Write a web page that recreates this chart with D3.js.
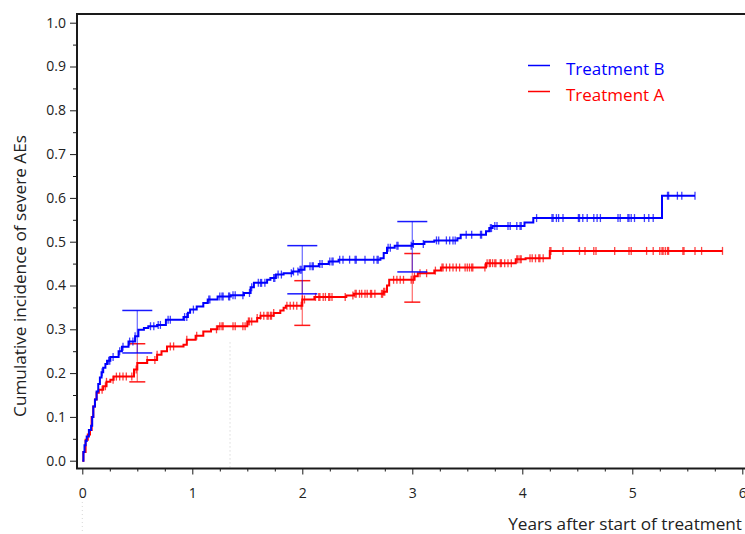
<!DOCTYPE html>
<html>
<head>
<meta charset="utf-8">
<script src="https://cdn.jsdelivr.net/npm/d3@7"></script>
<style>
  html, body { margin: 0; padding: 0; background: #fff; }
  svg { display: block; }
  text { font-family: "Open Sans", "Noto Sans", sans-serif; }
</style>
</head>
<body>
<svg id="chart" width="745" height="534"></svg>
<script>
// Cumulative incidence step curves: [time in years, cumulative incidence after that time]
const stepsB = [
  [0,0],[0.01,0.02],[0.02,0.035],[0.03,0.045],[0.04,0.055],[0.06,0.07],[0.08,0.08],[0.09,0.10],
  [0.10,0.124],[0.115,0.14],[0.13,0.158],[0.145,0.175],[0.16,0.19],[0.175,0.202],[0.19,0.212],
  [0.21,0.221],[0.225,0.228],[0.255,0.237],[0.33,0.25],[0.36,0.26],[0.42,0.272],[0.48,0.284],
  [0.51,0.299],[0.56,0.303],[0.60,0.307],[0.68,0.31],[0.76,0.322],[0.92,0.328],[0.96,0.338],
  [0.98,0.345],[1.04,0.352],[1.10,0.36],[1.14,0.368],[1.23,0.375],[1.35,0.378],[1.47,0.383],
  [1.53,0.396],[1.56,0.406],[1.68,0.413],[1.71,0.417],[1.76,0.425],[1.83,0.428],[1.91,0.432],
  [1.97,0.436],[2.02,0.444],[2.15,0.449],[2.24,0.455],[2.33,0.459],[2.71,0.462],[2.74,0.474],
  [2.77,0.486],[2.84,0.491],[3.0,0.495],[3.11,0.5],[3.2,0.503],[3.41,0.508],[3.44,0.516],
  [3.67,0.524],[3.70,0.531],[3.73,0.536],[4.02,0.544],[4.10,0.554],[5.27,0.605]
];
const endB = 5.57;

const stepsA = [
  [0,0],[0.01,0.02],[0.03,0.048],[0.05,0.06],[0.07,0.07],[0.085,0.10],[0.10,0.124],[0.115,0.14],
  [0.13,0.155],[0.15,0.162],[0.19,0.17],[0.22,0.18],[0.255,0.185],[0.285,0.192],[0.47,0.208],
  [0.50,0.223],[0.59,0.23],[0.68,0.242],[0.72,0.25],[0.77,0.261],[0.92,0.265],[0.95,0.276],
  [1.03,0.285],[1.10,0.295],[1.17,0.30],[1.23,0.307],[1.50,0.318],[1.59,0.326],[1.62,0.331],
  [1.74,0.337],[1.80,0.343],[1.83,0.349],[1.85,0.354],[2.0,0.368],[2.11,0.374],[2.40,0.377],
  [2.47,0.381],[2.74,0.386],[2.77,0.40],[2.79,0.413],[3.02,0.421],[3.05,0.428],[3.2,0.434],
  [3.26,0.441],[3.67,0.451],[3.94,0.46],[4.03,0.462],[4.25,0.479]
];
const endA = 5.82;

// Censoring times (years)
const censorB = [
  0.18,0.24,0.25,0.28,0.34,0.37,0.43,0.46,0.48,0.62,0.65,0.69,0.71,0.78,0.80,0.93,0.95,1.01,
  1.15,1.16,1.25,1.27,1.28,1.33,1.34,1.37,1.39,1.46,1.52,1.54,1.60,1.62,1.63,1.66,1.74,1.75,
  1.78,1.81,1.90,1.92,1.96,1.98,1.99,2.07,2.09,2.10,2.16,2.18,2.25,2.27,2.28,2.34,2.37,2.43,
  2.48,2.49,2.57,2.65,2.68,2.69,2.78,2.80,2.86,2.87,2.99,3.01,3.10,3.22,3.24,3.31,3.34,3.37,
  3.39,3.49,3.54,3.62,3.63,3.71,3.72,3.75,3.77,3.87,3.89,3.95,3.98,3.99,4.13,4.27,4.28,4.31,
  4.33,4.37,4.51,4.52,4.55,4.59,4.65,4.68,4.71,4.87,4.89,4.96,4.97,4.99,5.02,5.11,5.15,5.19,
  5.32,5.33,5.41,5.45,5.57
];
const censorA = [
  0.18,0.21,0.22,0.28,0.31,0.34,0.37,0.40,0.45,0.49,0.59,0.66,0.68,0.80,0.83,0.95,1.04,
  1.22,1.25,1.27,1.28,1.37,1.39,1.46,1.48,1.51,1.52,1.54,1.59,1.62,1.68,1.71,1.65,1.69,1.72,
  1.74,1.86,1.89,1.92,1.95,1.99,2.00,2.02,2.12,2.15,2.16,2.19,2.21,2.24,2.25,2.27,2.39,2.46,
  2.48,2.49,2.52,2.54,2.57,2.59,2.62,2.63,2.66,2.72,2.73,2.74,2.75,2.83,2.86,2.89,2.92,2.99,
  3.01,3.02,3.07,3.13,3.21,3.27,3.28,3.31,3.34,3.37,3.40,3.43,3.48,3.50,3.52,3.54,3.55,3.66,
  3.68,3.70,3.71,3.73,3.75,3.76,3.80,3.81,3.84,3.87,3.90,3.95,3.96,3.98,3.99,4.07,4.09,4.12,
  4.15,4.16,4.19,4.25,4.26,4.37,4.52,4.57,4.65,4.67,4.84,4.97,4.99,5.13,5.19,5.25,5.27,5.28,
  5.30,5.32,5.33,5.46,5.47,5.57,5.63,5.82
];

// Pointwise confidence intervals: [time, lower, upper]
const ciB = [[0.5,0.246,0.343],[2.0,0.381,0.491],[3.0,0.431,0.546]];
const ciA = [[0.5,0.180,0.267],[2.0,0.309,0.411],[3.0,0.362,0.473]];

const yTicks = [0,0.1,0.2,0.3,0.4,0.5,0.6,0.7,0.8,0.9,1.0];
const xTicks = [0,1,2,3,4,5,6];
const seriesNames = ["Treatment B","Treatment A"];

const BLUE = "#0000ff", RED = "#ff0000", FRAME = "#1a1a1a";

const svg = d3.select("#chart");
const x = d3.scaleLinear().domain([0, 6]).range([82.3, 742.3]);
const y = d3.scaleLinear().domain([0, 1]).range([460.7, 22.7]);

const frameLeft = 77, frameTop = 14, frameBottom = 468.5, frameRight = 745;

// faint dotted guide lines
svg.append("line").attr("x1", x(1.343)).attr("x2", x(1.343))
  .attr("y1", y(0.27)).attr("y2", frameBottom)
  .attr("stroke", "#c8c8c8").attr("stroke-width", 1).attr("stroke-dasharray", "1,3");
svg.append("line").attr("x1", x(0)).attr("x2", x(0))
  .attr("y1", 502).attr("y2", 534)
  .attr("stroke", "#d8d8d8").attr("stroke-width", 1).attr("stroke-dasharray", "1,3");

// Y axis: major + minor ticks
const yAxis = d3.axisLeft(y).tickValues(yTicks).tickFormat(d3.format(".1f")).tickSize(7).tickPadding(4);
const yG = svg.append("g").attr("transform", `translate(${frameLeft},0)`).call(yAxis);
yG.select(".domain").remove();
yG.selectAll(".tick line").attr("stroke", FRAME).attr("stroke-width", 1);
yG.selectAll(".tick text").attr("font-size", 14).attr("fill", "#222").attr("font-family", "'Open Sans', sans-serif");
const yMinor = d3.axisLeft(y).tickValues(d3.range(0.05, 1, 0.1)).tickSize(4).tickFormat("");
const yMG = svg.append("g").attr("transform", `translate(${frameLeft},0)`).call(yMinor);
yMG.select(".domain").remove();
yMG.selectAll(".tick line").attr("stroke", FRAME).attr("stroke-width", 1);

// X axis: major + minor ticks
const xAxis = d3.axisBottom(x).tickValues(xTicks).tickFormat(d3.format("d")).tickSize(6).tickPadding(14);
const xG = svg.append("g").attr("transform", `translate(0,${frameBottom})`).call(xAxis);
xG.select(".domain").remove();
xG.selectAll(".tick line").attr("stroke", FRAME).attr("stroke-width", 1);
xG.selectAll(".tick text").attr("font-size", 14).attr("fill", "#222").attr("font-family", "'Open Sans', sans-serif");
const xMinor = d3.axisBottom(x).tickValues(d3.range(0.25, 6, 0.25).filter(v => Math.abs(v - Math.round(v)) > 1e-6)).tickSize(3).tickFormat("");
const xMG = svg.append("g").attr("transform", `translate(0,${frameBottom})`).call(xMinor);
xMG.select(".domain").remove();
xMG.selectAll(".tick line").attr("stroke", FRAME).attr("stroke-width", 1);

// Frame (left, top, bottom)
svg.append("path")
  .attr("d", `M${frameLeft},${frameBottom} L${frameLeft},${frameTop} L${frameRight},${frameTop}`)
  .attr("fill", "none").attr("stroke", FRAME).attr("stroke-width", 2);
svg.append("line").attr("x1", frameLeft - 1).attr("x2", frameRight)
  .attr("y1", frameBottom).attr("y2", frameBottom)
  .attr("stroke", FRAME).attr("stroke-width", 2);

// step curves
function drawCurve(steps, end, censor, ci, color, capHalf) {
  const pts = steps.concat([[end, steps[steps.length - 1][1]]]);
  const line = d3.line().x(d => x(d[0])).y(d => y(d[1])).curve(d3.curveStepAfter);
  svg.append("path").datum(pts).attr("d", line)
    .attr("fill", "none").attr("stroke", color).attr("stroke-width", 2);

  // value of the step function at time t
  const bis = d3.bisector(d => d[0]).right;
  const valueAt = t => steps[Math.max(0, bis(steps, t) - 1)][1];

  svg.append("g").selectAll("line").data(censor).join("line")
    .attr("x1", d => x(d)).attr("x2", d => x(d))
    .attr("y1", d => y(valueAt(d)) - 4).attr("y2", d => y(valueAt(d)) + 4)
    .attr("stroke", color).attr("stroke-width", 1.3).attr("stroke-opacity", 0.75);

  const g = svg.append("g");
  ci.forEach(([t, lo, hi]) => {
    g.append("line").attr("x1", x(t)).attr("x2", x(t)).attr("y1", y(lo)).attr("y2", y(hi))
      .attr("stroke", color).attr("stroke-width", 1.3).attr("stroke-opacity", 0.55);
    [lo, hi].forEach(v => {
      g.append("line").attr("x1", x(t) - capHalf).attr("x2", x(t) + capHalf)
        .attr("y1", y(v)).attr("y2", y(v))
        .attr("stroke", color).attr("stroke-width", 1.5).attr("stroke-opacity", 0.9);
    });
  });
}

drawCurve(stepsA, endA, censorA, ciA, RED, 8);
drawCurve(stepsB, endB, censorB, ciB, BLUE, 15);

// Legend
const legend = svg.append("g");
[[seriesNames[0], BLUE, 65.5], [seriesNames[1], RED, 91.5]].forEach(([name, color, ly]) => {
  legend.append("line").attr("x1", 528).attr("x2", 550).attr("y1", ly).attr("y2", ly)
    .attr("stroke", color).attr("stroke-width", 1.5);
  legend.append("text").attr("x", 566).attr("y", ly + 9.5).attr("font-size", 17)
    .attr("fill", color).text(name);
});

// Axis titles
svg.append("text").attr("x", 742).attr("y", 530).attr("text-anchor", "end")
  .attr("font-size", 17.2).attr("fill", "#222").text("Years after start of treatment");
svg.append("text").attr("transform", "translate(26,276) rotate(-90)").attr("text-anchor", "middle")
  .attr("font-size", 17.2).attr("fill", "#222").text("Cumulative incidence of severe AEs");
</script>
</body>
</html>
